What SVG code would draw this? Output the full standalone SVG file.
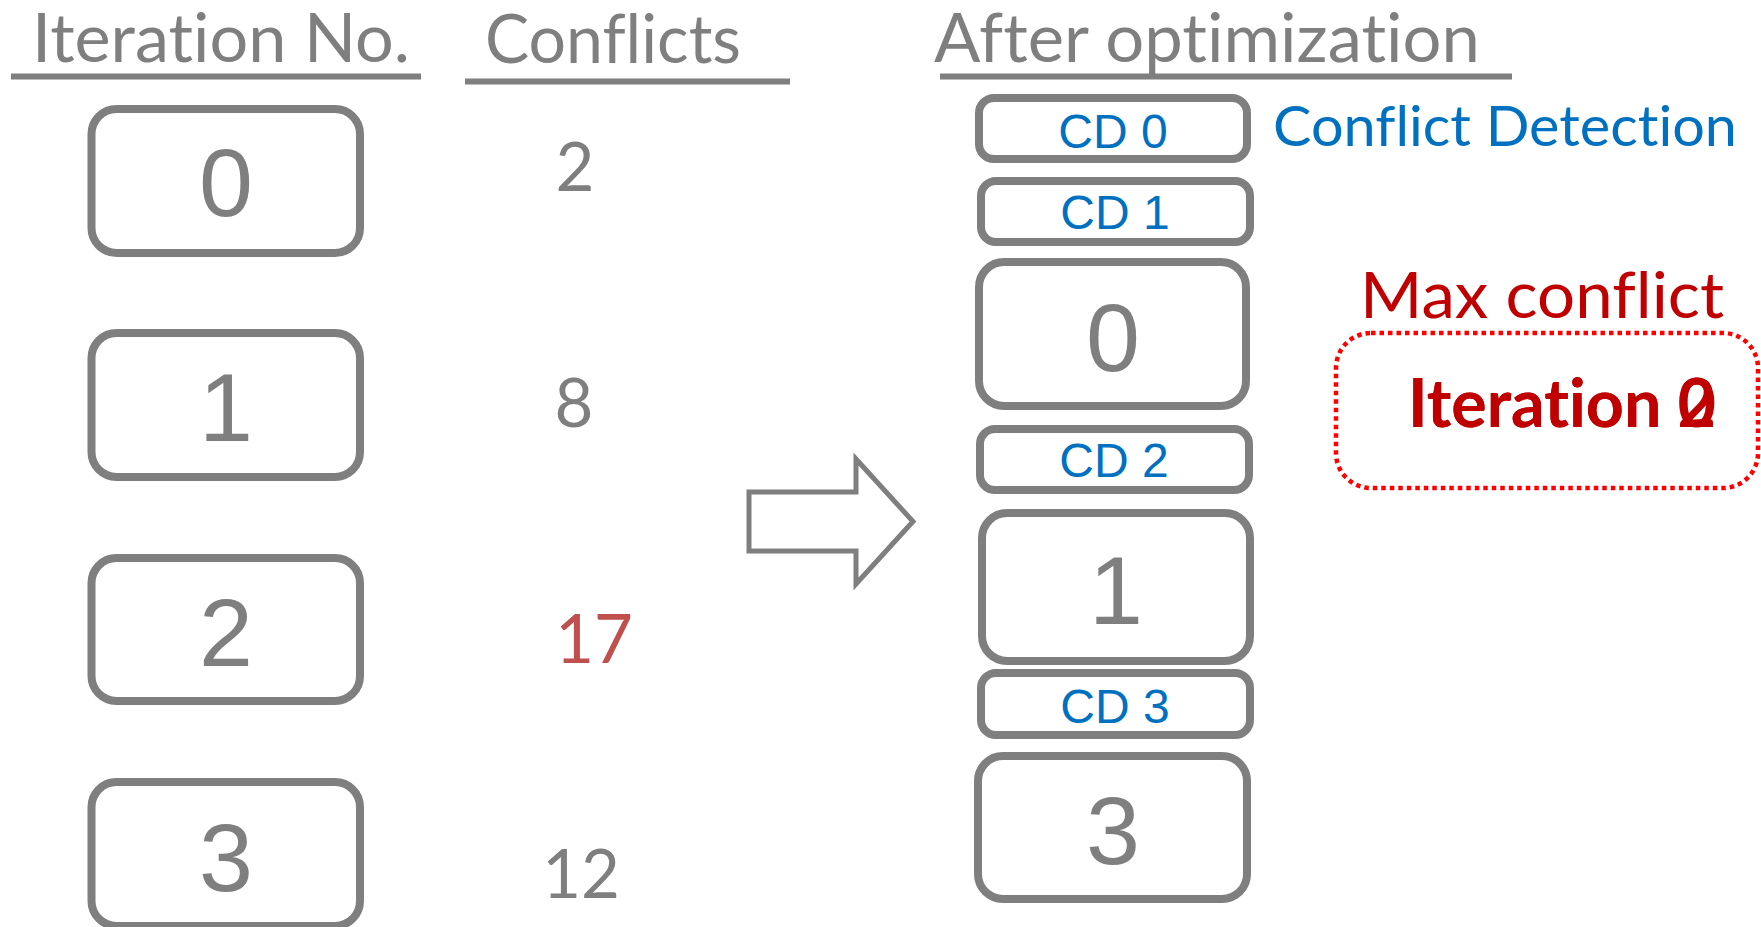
<svg xmlns="http://www.w3.org/2000/svg" width="1761" height="927" viewBox="0 0 1761 927">
  <style>
    .box { fill: #FFFFFF; stroke: #7F7F7F; stroke-width: 8; }
    .rule { stroke: #7F7F7F; stroke-width: 6; }
    .head { font-family: Lato, "Open Sans", sans-serif; font-size: 67px; fill: #7F7F7F; font-variant-ligatures: none; }
    .count { font-family: Lato, "Open Sans", sans-serif; font-size: 67px; fill: #7F7F7F; text-anchor: middle; }
    .hot { fill: #C0504D; }
    .num { font-family: "Liberation Sans", Arial, sans-serif; font-size: 97px; fill: #7F7F7F; text-anchor: middle; }
    .cd { font-family: "Liberation Sans", Arial, sans-serif; font-size: 48px; fill: #0070C0; text-anchor: middle; }
    .note { font-family: Lato, "Open Sans", sans-serif; font-variant-ligatures: none; }
  </style>
  <rect width="1761" height="927" fill="#FFFFFF"/>

  <!-- column headers -->
  <g id="headers">
    <text class="head" x="32" y="62" textLength="378" lengthAdjust="spacingAndGlyphs">Iteration No.</text>
    <line class="rule" x1="11" y1="76.5" x2="421" y2="76.5"/>
    <text class="head" x="485" y="63" textLength="256" lengthAdjust="spacingAndGlyphs">Conflicts</text>
    <line class="rule" x1="465" y1="81.5" x2="790" y2="81.5"/>
    <text class="head" x="934" y="62" textLength="546" lengthAdjust="spacingAndGlyphs">After optimization</text>
    <line class="rule" x1="940" y1="76.5" x2="1512" y2="76.5"/>
  </g>

  <!-- original iterations -->
  <g id="iter-0"><rect class="box" x="91.5" y="109" width="268.5" height="144" rx="25"/><text class="num" x="226" y="216">0</text></g>
  <g id="iter-1"><rect class="box" x="91.5" y="333" width="268.5" height="144" rx="25"/><text class="num" x="226" y="441">1</text></g>
  <g id="iter-2"><rect class="box" x="91.5" y="558" width="268.5" height="143" rx="25"/><text class="num" x="226" y="666">2</text></g>
  <g id="iter-3"><rect class="box" x="91.5" y="782" width="268.5" height="144" rx="25"/><text class="num" x="226" y="891">3</text></g>

  <!-- conflict counts -->
  <g id="counts">
    <text class="count" x="575" y="191">2</text>
    <text class="count" x="574" y="427">8</text>
    <text class="count hot" x="594" y="663">17</text>
    <text class="count" x="581" y="898">12</text>
  </g>

  <!-- transformation arrow -->
  <g id="connectors">
    <polygon points="749,492 856,492 856,459 913,521.5 856,584 856,551 749,551" fill="#FFFFFF" stroke="#7F7F7F" stroke-width="5"/>
  </g>

  <!-- optimized schedule -->
  <g id="cd-0"><rect class="box" x="979" y="98" width="268" height="61" rx="15"/><text class="cd" x="1113" y="148">CD 0</text></g>
  <g id="cd-1"><rect class="box" x="981" y="181" width="269" height="61" rx="15"/><text class="cd" x="1115" y="229">CD 1</text></g>
  <g id="opt-0"><rect class="box" x="979" y="262" width="267" height="144" rx="25"/><text class="num" x="1113" y="371">0</text></g>
  <g id="cd-2"><rect class="box" x="980" y="429" width="269" height="61" rx="15"/><text class="cd" x="1114" y="477">CD 2</text></g>
  <g id="opt-1"><rect class="box" x="982" y="513" width="268" height="148" rx="25"/><text class="num" x="1116" y="624">1</text></g>
  <g id="cd-3"><rect class="box" x="981" y="673" width="269" height="62" rx="15"/><text class="cd" x="1115" y="723">CD 3</text></g>
  <g id="opt-3"><rect class="box" x="978" y="756" width="269" height="143" rx="25"/><text class="num" x="1113" y="864">3</text></g>

  <!-- annotations -->
  <g id="legend-cd">
    <text class="note" x="1273" y="146" font-size="56" fill="#0070C0" textLength="464" lengthAdjust="spacingAndGlyphs">Conflict Detection</text>
  </g>
  <g id="max-conflict">
    <text class="note" x="1360" y="318" font-size="64" fill="#C00000" textLength="364" lengthAdjust="spacingAndGlyphs">Max conflict</text>
    <rect x="1336" y="333" width="422" height="155" rx="35" fill="none" stroke="#FF0000" stroke-width="4.5" stroke-dasharray="4.5 4"/>
    <text class="note" x="1408" y="427" font-size="66" font-weight="700" fill="#C00000" textLength="308" lengthAdjust="spacingAndGlyphs">Iteration 0</text>
    <text class="note" x="1408" y="427" font-size="66" font-weight="700" fill="#C00000" textLength="308" lengthAdjust="spacingAndGlyphs">Iteration 2</text>
  </g>
</svg>
